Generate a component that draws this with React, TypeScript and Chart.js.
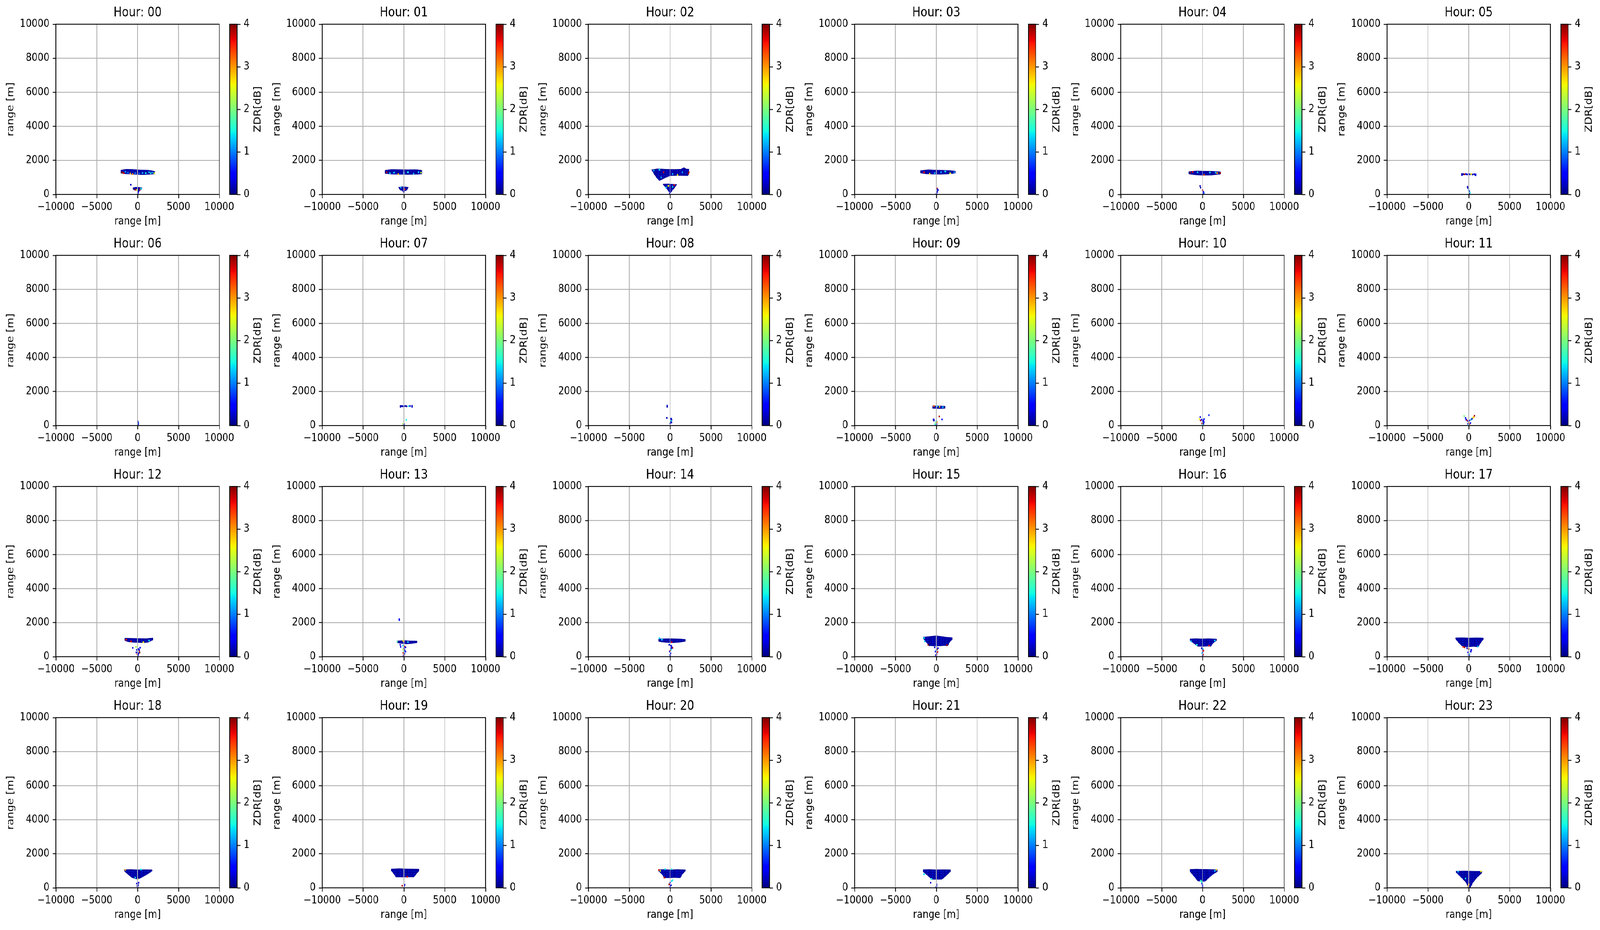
import React, { useEffect, useRef, useState } from 'react';
import { Chart, registerables } from 'chart.js';

Chart.register(...registerables);

// ---------------- data ----------------
const hourLabels = ['00','01','02','03','04','05','06','07','08','09','10','11','12','13','14','15','16','17','18','19','20','21','22','23'];
const xTicks = [-10000, -5000, 0, 5000, 10000];
const yTicks = [0, 2000, 4000, 6000, 8000, 10000];
const zdrTicks = [0, 1, 2, 3, 4];
const xRange = [-10000, 10000];
const yRange = [0, 10000];
const zdrRange = [0, 4];

// echo outlines [range x, height] (ZDR ~ 0 dB body)
const echo00 = [[-2050,1430],[-1400,1480],[-600,1470],[300,1440],[1200,1430],[1700,1400],[2100,1350],[2100,1200],[1500,1180],[700,1160],[0,1170],[-800,1190],[-1500,1210],[-2050,1250]];
const low00 = [[-550,400],[-100,430],[300,410],[570,380],[450,280],[200,200],[50,60],[-50,220],[-400,260],[-550,300]];
const echo01 = [[-2300,1420],[-1500,1470],[-500,1460],[500,1450],[1500,1460],[2200,1420],[2200,1200],[1500,1180],[500,1170],[-500,1180],[-1500,1190],[-2300,1230]];
const low01 = [[-650,420],[-200,460],[250,440],[550,420],[400,260],[100,200],[0,60],[-150,220],[-450,260]];
const echo02 = [[-2250,1450],[-1500,1510],[-500,1480],[500,1470],[1300,1480],[1700,1580],[2000,1490],[2310,1490],[2300,1250],[2170,1100],[1000,1110],[0,1100],[-500,1000],[-1000,880],[-1300,810],[-1600,950],[-1900,1150],[-2170,1370]];
const low02 = [[-870,610],[-300,620],[300,600],[810,590],[600,420],[300,250],[100,120],[0,60],[-200,200],[-500,380],[-750,520]];
const echo03 = [[-1950,1400],[-1000,1450],[0,1430],[1000,1420],[1800,1400],[2320,1370],[2320,1250],[1500,1200],[500,1185],[-500,1190],[-1300,1210],[-1950,1260]];
const echo04 = [[-1670,1340],[-800,1380],[300,1370],[1300,1360],[2180,1330],[2180,1190],[1000,1130],[0,1125],[-900,1150],[-1670,1200]];
const echo09 = [[-460,1150],[100,1160],[600,1150],[1070,1140],[1070,1010],[500,1000],[-460,1010]];
const echo12 = [[-1580,1090],[-700,1080],[300,1070],[1000,1060],[1860,1100],[1860,980],[1300,850],[800,820],[0,830],[-700,850],[-1200,880],[-1580,950]];
const echo13 = [[-835,930],[0,950],[800,930],[1620,920],[1620,820],[900,770],[300,750],[-300,780],[-835,820]];
const echo14 = [[-1390,1050],[0,1060],[1000,1050],[1860,1020],[1860,900],[1200,850],[400,820],[-300,830],[-1000,860],[-1390,900]];
const echo15 = [[-1620,1150],[-1000,1180],[0,1230],[600,1190],[1200,1150],[1950,1120],[1950,1000],[1700,900],[1400,640],[1000,650],[0,620],[-600,640],[-900,640],[-1300,900],[-1620,1080]];
const echo16 = [[-1530,1050],[-800,1060],[0,1050],[800,1060],[1720,1040],[1720,950],[1300,800],[1020,610],[600,620],[0,600],[-600,610],[-1100,800],[-1530,950]];
const echo17 = [[-1620,1110],[-800,1120],[0,1100],[1000,1110],[1760,1100],[1760,1000],[1500,850],[1160,575],[600,600],[0,580],[-700,575],[-1200,800],[-1620,1050]];
const echo18 = [[-1620,1070],[-800,1080],[0,1060],[900,1070],[1760,1060],[1760,980],[1200,800],[460,600],[0,500],[-400,560],[-700,600],[-1200,800],[-1620,980]];
const echo19 = [[-1530,1110],[-500,1130],[500,1110],[1860,1100],[1860,1000],[1500,800],[1250,635],[500,640],[0,630],[-975,635],[-1200,800],[-1530,1000]];
const echo20 = [[-1390,1070],[-700,1080],[0,1060],[900,1080],[1860,1060],[1860,980],[1500,800],[1250,590],[500,600],[0,590],[-700,590],[-1000,800],[-1390,980]];
const echo21 = [[-1620,1070],[-800,1080],[0,1060],[900,1070],[1720,1060],[1720,950],[1300,750],[700,500],[0,500],[-560,500],[-1000,700],[-1620,950]];
const echo22 = [[-1530,1085],[-800,1100],[0,1090],[900,1080],[1810,1070],[1810,950],[1300,800],[800,600],[320,380],[-100,380],[-600,400],[-900,600],[-1530,950]];
const echo23 = [[-1530,980],[-500,990],[500,980],[1620,970],[1620,880],[1000,600],[500,300],[200,20],[-100,20],[-300,300],[-900,600],[-1530,900]];

// speckles [range x, height, ZDR dB]
const spk00 = [[-840,570,0.2],[-1900,1300,3.9],[-1700,1250,3.6],[-1500,1330,1.2],[-1200,1280,1.0],[-900,1230,2.8],[-600,1200,3.0],[-300,1250,1.1],[200,1230,0.9],[600,1260,1.3],[1000,1250,1.5],[1400,1300,1.4],[1600,1250,1.6],[1800,1280,1.1],[2050,1250,2.3],[-300,280,3.8],[-100,260,2.5],[300,300,3.5],[400,330,1.4],[0,20,0.5],[50,100,0.4]];
const spk01 = [[-2100,1300,3.8],[-1700,1250,1.4],[-1200,1280,1.3],[-700,1200,2.8],[0,1250,1.2],[500,1300,1.5],[1200,1220,1.3],[1800,1300,1.4],[2100,1280,2.4],[-400,400,1.3],[100,300,3.7],[-500,350,0.2],[0,150,0.3]];
const spk02 = [[2300,1300,3.8],[2250,1230,3.9],[-1300,1450,1.4],[-2000,1400,1.2],[-800,1300,3.7],[300,1200,1.3],[900,1150,2.6],[1500,1300,1.1],[-1100,1000,1.2],[-500,400,1.3],[-200,500,2.5],[300,450,1.4],[500,550,3.6],[0,120,0.3],[-50,40,0.2]];
const spk03 = [[100,350,3.8],[150,300,0.3],[200,250,0.2],[120,150,0.3],[50,80,0.4],[0,20,0.3],[-1500,1300,3.6],[-800,1220,2.7],[-200,1250,1.3],[600,1300,1.2],[1100,1350,1.4],[1700,1240,2.5],[2200,1300,1.1]];
const spk04 = [[-1500,1280,3.9],[-1200,1320,3.6],[200,1150,3.3],[1800,1250,3.0],[2150,1260,3.9],[-600,1300,1.4],[900,1290,1.5],[1600,1280,1.2],[-300,500,0.2],[-250,400,0.1],[0,250,3.8],[100,150,0.3],[150,80,0.8],[50,20,0.2]];
const spk05 = [[-830,1200,0.2],[-830,1140,0.2],[-650,1190,0.1],[-500,1180,3.8],[-350,1200,0.3],[-200,1170,0.2],[0,1190,0.4],[150,1180,0.1],[300,1200,2.6],[450,1170,0.2],[650,1190,0.2],[830,1180,0.3],[830,1130,0.3],[-150,450,0.2],[-120,380,0.2],[0,250,1.2],[80,180,0.3],[150,100,1.5],[50,40,0.2]];
const spk06 = [[0,250,0.3],[50,180,0.2],[80,100,0.8],[30,50,0.2]];
const spk07 = [[-420,1150,0.2],[-420,1100,0.2],[-300,1140,0.1],[-200,1150,0.3],[-100,1130,0.2],[50,1140,0.4],[200,1150,0.2],[350,1130,0.1],[600,1140,1.5],[750,1150,0.3],[1000,1160,0.2],[1000,1100,0.2],[300,340,1.5],[-100,100,2.2],[50,80,0.3],[0,40,0.4]];
const spk08 = [[-350,1170,0.2],[-350,1100,0.2],[-400,450,0.2],[130,400,0.3],[160,330,0.2],[100,280,1.4],[80,200,0.3],[0,120,0.3],[150,180,0.2]];
const spk09 = [[-300,1150,3.2],[100,1130,1.3],[400,1100,2.7],[800,1080,1.2],[370,535,3.8],[-325,360,0.3],[700,360,0.5],[-300,300,0.2],[0,250,1.3],[100,200,3.0],[-50,150,2.3],[50,100,0.4],[0,40,0.2],[-150,80,1.5]];
const spk10 = [[-280,500,0.3],[790,610,0.6],[-370,380,2.6],[-250,300,3.8],[-100,350,0.3],[0,250,0.5],[100,300,0.4],[200,380,0.4],[50,180,2.4],[-50,120,3.9],[100,100,0.3],[0,40,1.5],[150,200,0.3]];
const spk11 = [[-560,560,2.0],[700,575,3.9],[600,500,3.0],[500,450,2.5],[-400,450,0.3],[-300,350,0.4],[-200,300,3.7],[-100,250,0.6],[0,200,2.8],[100,300,0.4],[300,350,1.2],[200,150,0.5],[100,80,3.8],[-100,100,0.3],[0,30,1.5],[400,400,0.2]];
const spk12 = [[-1400,1000,3.6],[-800,900,3.7],[700,850,2.6],[1400,950,1.5],[-600,520,0.3],[-200,580,2.2],[100,450,0.3],[300,530,0.4],[-100,400,0.3],[200,350,3.8],[0,300,1.4],[-150,250,0.3],[250,250,3.9],[100,200,0.3],[-50,150,3.5],[50,100,0.3],[0,40,0.2],[200,400,0.4]];
const spk13 = [[-560,2200,0.4],[-540,2150,0.5],[-800,880,1.8],[-100,950,2.4],[0,900,3.0],[500,860,1.3],[-450,700,0.3],[-400,580,0.4],[-100,650,1.3],[100,600,3.9],[200,550,0.3],[0,480,0.4],[-100,420,2.3],[100,380,0.3],[0,300,1.6],[-50,220,3.8],[80,180,0.3],[0,100,3.9],[-30,40,0.3],[200,300,0.4]];
const spk14 = [[-1300,1080,1.3],[-1000,1000,1.4],[200,850,3.6],[-100,700,0.3],[100,650,0.3],[200,600,0.5],[300,520,3.8],[150,500,0.3],[100,400,1.4],[0,350,3.7],[-50,300,0.4],[50,200,0.3],[0,100,0.3],[0,30,0.2]];
const spk15 = [[-1400,900,1.3],[-1000,700,3.9],[1300,680,3.8],[-1500,1100,1.4],[-200,550,0.3],[200,500,0.4],[100,420,3.9],[0,380,1.3],[-100,300,0.4],[150,280,3.7],[50,200,0.3],[0,120,3.8],[-50,80,0.4],[20,30,0.3]];
const spk16 = [[-1400,900,1.3],[-700,700,1.5],[800,650,3.5],[1500,950,1.4],[-100,500,0.3],[50,450,1.4],[0,400,0.3],[100,350,3.7],[0,250,0.4],[-50,200,1.3],[50,120,3.9],[0,50,0.3]];
const spk17 = [[-700,580,3.4],[-500,550,3.8],[1100,600,1.2],[-200,500,0.3],[0,450,3.9],[300,400,0.4],[250,300,0.3],[-100,250,0.5],[100,150,1.5],[0,100,0.3],[50,40,0.3]];
const spk18 = [[-300,600,1.4],[0,520,2.6],[-1500,1050,2.9],[400,1080,1.5],[-100,250,0.3],[0,200,0.4],[50,150,0.2],[-50,100,0.3],[100,300,0.3],[0,40,0.3]];
const spk19 = [[-200,120,3.8],[100,180,0.4],[50,100,0.3],[400,650,3.6]];
const spk20 = [[-1400,1050,3.5],[-1200,1000,2.6],[-600,1090,1.4],[200,1100,1.6],[-700,600,3.8],[300,450,1.5],[200,400,1.3],[0,300,0.3],[-100,200,3.9],[100,150,0.3],[0,80,0.4]];
const spk21 = [[-1500,800,1.4],[-600,520,1.6],[-700,300,0.3],[50,200,0.3],[50,130,0.4],[-10,50,0.3]];
const spk22 = [[1700,1060,2.7],[1500,1000,1.3],[-100,350,1.5],[-50,250,0.3],[0,150,0.4],[0,60,0.4],[-200,420,1.7]];
const spk23 = [[-1300,950,1.3],[1500,960,2.6],[-400,550,1.4],[0,200,3.0],[-50,100,2.8]];

const hourEchoes: number[][][][] = [
  [echo00, low00], [echo01, low01], [echo02, low02], [echo03], [echo04], [], [], [], [], [echo09], [], [],
  [echo12], [echo13], [echo14], [echo15], [echo16], [echo17], [echo18], [echo19], [echo20], [echo21], [echo22], [echo23],
];
const hourSpeckles: number[][][] = [
  spk00, spk01, spk02, spk03, spk04, spk05, spk06, spk07, spk08, spk09, spk10, spk11,
  spk12, spk13, spk14, spk15, spk16, spk17, spk18, spk19, spk20, spk21, spk22, spk23,
];

// ---------------- style / layout ----------------
const FIG_W = 4778;
const FIG_H = 2382;
const PT = 200 / 72;
const FONT = "'DejaVu Sans', 'Liberation Sans', sans-serif";
const TICK_FS = 10 * PT;
const TITLE_FS = 12 * PT;
const LW = 0.8 * PT;
const TICK_LEN = 3.5 * PT;
const TICK_PAD = 3.5 * PT;
const GRID_COLOR = '#b0b0b0';
const colLefts = [167, 962, 1757, 2552, 3347, 4142];
const rowTops = [62, 654, 1246, 1838];
const AX_W = 488;
const AX_H = 436;

const MAIN_PAD_L = 10, MAIN_PAD_R = 60, Y_AXIS_W = 160, X_AXIS_H = 100, TITLE_H = 70;
const MAIN_W = MAIN_PAD_L + Y_AXIS_W + AX_W + MAIN_PAD_R;
const MAIN_H = TITLE_H + AX_H + X_AXIS_H;
const CB_GAP = 31, CB_W = 22, CB_PAD_L = 10, CB_PAD_V = 20, CB_AXIS_W = 108;
const CB_CANVAS_W = CB_PAD_L + CB_W + CB_AXIS_W;
const CB_CANVAS_H = CB_PAD_V * 2 + AX_H;

Chart.defaults.font.family = FONT;
Chart.defaults.color = '#000';

// matplotlib 'jet' colormap segments
const JET_R = [[0, 0], [0.35, 0], [0.66, 1], [0.89, 1], [1, 0.5]];
const JET_G = [[0, 0], [0.125, 0], [0.375, 1], [0.64, 1], [0.91, 0], [1, 0]];
const JET_B = [[0, 0.5], [0.11, 1], [0.34, 1], [0.65, 0], [1, 0]];
const JET_STOPS = [0, 0.11, 0.125, 0.34, 0.35, 0.375, 0.5, 0.64, 0.65, 0.66, 0.89, 0.91, 1];
function seg(s: number[][], t: number) {
  for (let i = 1; i < s.length; i++) {
    if (t <= s[i][0]) {
      const [t0, v0] = s[i - 1];
      const [t1, v1] = s[i];
      return v0 + ((t - t0) / (t1 - t0)) * (v1 - v0);
    }
  }
  return s[s.length - 1][1];
}
function jet(t: number) {
  const u = Math.max(0, Math.min(1, t));
  return `rgb(${Math.round(seg(JET_R, u) * 255)},${Math.round(seg(JET_G, u) * 255)},${Math.round(seg(JET_B, u) * 255)})`;
}

const fmt = (v: number) => (v < 0 ? '\u2212' + Math.abs(v) : String(v));
const tickFont = { family: FONT, size: TICK_FS, weight: 'normal' as const, lineHeight: 1.2 };

let patternCache: CanvasPattern | null = null;
function getPattern(): CanvasPattern | string {
  if (patternCache) return patternCache;
  const c = document.createElement('canvas');
  c.width = 8;
  c.height = 6;
  const g = c.getContext('2d');
  if (!g) return '#00009a';
  const cols = ['#00008f', '#0000b8', '#000084', '#0000d4', '#00009c', '#0018f0', '#00008a', '#0000c4'];
  cols.forEach((col, i) => {
    g.fillStyle = col;
    g.fillRect(i, 0, 1, 6);
  });
  g.fillStyle = '#0040ff';
  g.fillRect(3, 1, 1, 2);
  g.fillStyle = '#000080';
  g.fillRect(5, 3, 1, 3);
  const p = g.createPattern(c, 'repeat');
  if (p) patternCache = p;
  return p || '#00009a';
}

const axesPlugin = {
  id: 'mplAxes',
  afterDatasetsDraw(chart: any) {
    const { ctx, chartArea: a, scales } = chart;
    ctx.save();
    ctx.strokeStyle = GRID_COLOR;
    ctx.lineWidth = LW;
    ctx.beginPath();
    for (const v of xTicks) {
      const px = scales.x.getPixelForValue(v);
      ctx.moveTo(px, a.top);
      ctx.lineTo(px, a.bottom);
    }
    for (const v of yTicks) {
      const py = scales.y.getPixelForValue(v);
      ctx.moveTo(a.left, py);
      ctx.lineTo(a.right, py);
    }
    ctx.stroke();
    ctx.strokeStyle = '#000';
    ctx.strokeRect(a.left, a.top, a.right - a.left, a.bottom - a.top);
    ctx.restore();
  },
};

const cbPlugin = {
  id: 'cbFrame',
  afterDraw(chart: any) {
    const { ctx, chartArea: a } = chart;
    ctx.save();
    ctx.strokeStyle = '#000';
    ctx.lineWidth = LW;
    ctx.strokeRect(a.left, a.top, a.right - a.left, a.bottom - a.top);
    ctx.fillStyle = '#000';
    ctx.font = `${TICK_FS}px ${FONT}`;
    ctx.translate(a.right + 70, (a.top + a.bottom) / 2);
    ctx.rotate(-Math.PI / 2);
    ctx.textAlign = 'center';
    ctx.textBaseline = 'alphabetic';
    ctx.fillText('ZDR[dB]', 0, 0);
    ctx.restore();
  },
};

function Panel({ idx }: { idx: number }) {
  const mainRef = useRef<HTMLCanvasElement>(null);
  const cbRef = useRef<HTMLCanvasElement>(null);
  const L = colLefts[idx % 6];
  const T = rowTops[Math.floor(idx / 6)];

  useEffect(() => {
    const pattern = getPattern();
    const polys = hourEchoes[idx];
    const spk = hourSpeckles[idx];
    const datasets: any[] = polys.map((poly) => ({
      type: 'line',
      data: [...poly, poly[0]].map(([x, y]) => ({ x, y })),
      fill: 'shape',
      backgroundColor: pattern,
      borderColor: '#00008c',
      borderWidth: 1,
      pointRadius: 0,
      tension: 0,
      order: 2,
    }));
    datasets.push({
      type: 'scatter',
      data: spk.map(([x, y]) => ({ x, y })),
      backgroundColor: spk.map((s) => jet((s[2] - zdrRange[0]) / (zdrRange[1] - zdrRange[0]))),
      borderWidth: 0,
      pointStyle: 'rect',
      pointRadius: 3,
      order: 1,
    });

    const main = new Chart(mainRef.current as HTMLCanvasElement, {
      type: 'scatter',
      data: { datasets },
      options: {
        animation: false,
        responsive: false,
        devicePixelRatio: 1,
        events: [],
        layout: { padding: { left: MAIN_PAD_L, right: MAIN_PAD_R, top: 0, bottom: 0 } },
        plugins: {
          legend: { display: false },
          tooltip: { enabled: false },
          title: {
            display: true,
            fullSize: false,
            text: 'Hour: ' + hourLabels[idx],
            color: '#000',
            font: { family: FONT, size: TITLE_FS, weight: 'normal', lineHeight: 1.2 },
            padding: { top: 21.8, bottom: 8.2 },
          },
        },
        scales: {
          x: {
            type: 'linear',
            min: xRange[0],
            max: xRange[1],
            afterBuildTicks: (s: any) => {
              s.ticks = xTicks.map((v) => ({ value: v }));
            },
            ticks: { callback: (v: any) => fmt(Number(v)), font: tickFont, color: '#000', padding: 6.6, maxRotation: 0, autoSkip: false },
            grid: { display: true, drawOnChartArea: false, drawTicks: true, tickLength: TICK_LEN, tickColor: '#000', tickWidth: LW },
            border: { display: false },
            title: { display: true, text: 'range [m]', color: '#000', font: tickFont, padding: { top: 0, bottom: 13.9 } },
            afterFit: (s: any) => {
              s.height = X_AXIS_H;
              s.paddingLeft = 0;
              s.paddingRight = 0;
            },
          },
          y: {
            type: 'linear',
            min: yRange[0],
            max: yRange[1],
            afterBuildTicks: (s: any) => {
              s.ticks = yTicks.map((v) => ({ value: v }));
            },
            ticks: { callback: (v: any) => fmt(Number(v)), font: tickFont, color: '#000', padding: TICK_PAD, autoSkip: false },
            grid: { display: true, drawOnChartArea: false, drawTicks: true, tickLength: TICK_LEN, tickColor: '#000', tickWidth: LW },
            border: { display: false },
            title: { display: true, text: 'range [m]', color: '#000', font: tickFont, padding: { top: 8.7, bottom: 0 } },
            afterFit: (s: any) => {
              s.width = Y_AXIS_W;
              s.paddingTop = 0;
              s.paddingBottom = 0;
            },
          },
        },
      } as any,
      plugins: [axesPlugin],
    });

    const cb = new Chart(cbRef.current as HTMLCanvasElement, {
      type: 'bar',
      data: {
        labels: ['ZDR'],
        datasets: [
          {
            data: [[zdrRange[0], zdrRange[1]]] as any,
            backgroundColor: (c: any) => {
              const chart = c.chart;
              const y = chart.scales && chart.scales.y;
              if (!chart.chartArea || !y) return '#000080';
              const g = chart.ctx.createLinearGradient(0, y.getPixelForValue(zdrRange[0]), 0, y.getPixelForValue(zdrRange[1]));
              JET_STOPS.forEach((t) => g.addColorStop(t, jet(t)));
              return g;
            },
            borderWidth: 0,
            barPercentage: 1,
            categoryPercentage: 1,
          },
        ],
      },
      options: {
        animation: false,
        responsive: false,
        devicePixelRatio: 1,
        events: [],
        layout: { padding: { left: CB_PAD_L, right: 0, top: CB_PAD_V, bottom: CB_PAD_V } },
        plugins: { legend: { display: false }, tooltip: { enabled: false }, title: { display: false } },
        scales: {
          x: { display: false },
          y: {
            type: 'linear',
            position: 'right',
            min: zdrRange[0],
            max: zdrRange[1],
            afterBuildTicks: (s: any) => {
              s.ticks = zdrTicks.map((v) => ({ value: v }));
            },
            ticks: { callback: (v: any) => fmt(Number(v)), font: tickFont, color: '#000', padding: TICK_PAD, autoSkip: false },
            grid: { display: true, drawOnChartArea: false, drawTicks: true, tickLength: TICK_LEN, tickColor: '#000', tickWidth: LW },
            border: { display: false },
            afterFit: (s: any) => {
              s.width = CB_AXIS_W;
              s.paddingTop = 0;
              s.paddingBottom = 0;
            },
          },
        },
      } as any,
      plugins: [cbPlugin],
    });

    return () => {
      main.destroy();
      cb.destroy();
    };
  }, [idx]);

  return (
    <>
      <canvas
        ref={mainRef}
        width={MAIN_W}
        height={MAIN_H}
        style={{ position: 'absolute', left: L - MAIN_PAD_L - Y_AXIS_W, top: T - TITLE_H, width: MAIN_W, height: MAIN_H }}
      />
      <canvas
        ref={cbRef}
        width={CB_CANVAS_W}
        height={CB_CANVAS_H}
        style={{ position: 'absolute', left: L + AX_W + CB_GAP - CB_PAD_L, top: T - CB_PAD_V, width: CB_CANVAS_W, height: CB_CANVAS_H }}
      />
    </>
  );
}

function viewportScale() {
  if (typeof window === 'undefined') return { sx: 1, sy: 1 };
  const w = window.innerWidth || FIG_W;
  const h = window.innerHeight || FIG_H;
  return { sx: Math.min(1, w / FIG_W), sy: Math.min(1, h / FIG_H) };
}

export default function App() {
  const [scale, setScale] = useState(viewportScale);
  useEffect(() => {
    const onResize = () => setScale(viewportScale());
    window.addEventListener('resize', onResize);
    document.body.style.overflow = 'hidden';
    return () => window.removeEventListener('resize', onResize);
  }, []);
  return (
    <div
      style={{
        position: 'fixed',
        left: 0,
        top: 0,
        width: FIG_W,
        height: FIG_H,
        background: '#fff',
        overflow: 'hidden',
        transform: `scale(${scale.sx}, ${scale.sy})`,
        transformOrigin: '0 0',
      }}
    >
      {hourLabels.map((h, i) => (
        <Panel key={h} idx={i} />
      ))}
    </div>
  );
}
